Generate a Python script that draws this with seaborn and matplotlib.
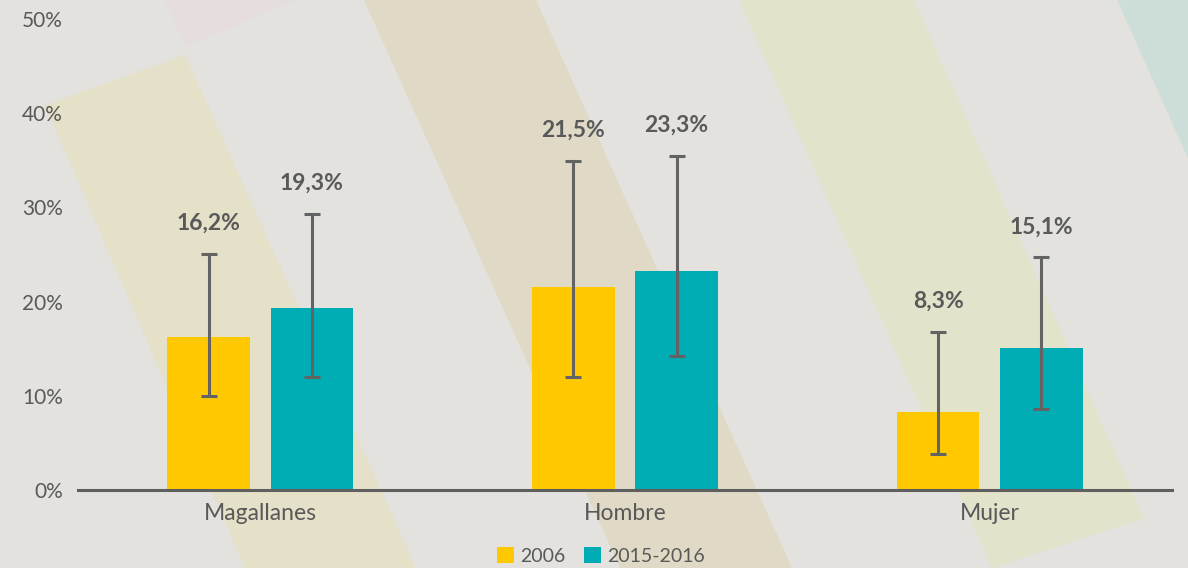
import matplotlib
matplotlib.use("Agg")
import matplotlib.pyplot as plt
from matplotlib.patches import Polygon, Patch
from matplotlib.container import BarContainer
import seaborn as sns
import pandas as pd
import numpy as np

# ---- data ----
categories = ["Magallanes", "Hombre", "Mujer"]
series = ["2006", "2015-2016"]
values_2006 = [16.2, 21.5, 8.3]
values_2015 = [19.3, 23.3, 15.1]
lo_2006 = [10.0, 12.0, 3.8]
hi_2006 = [25.1, 34.9, 16.8]
lo_2015 = [12.0, 14.2, 8.6]
hi_2015 = [29.3, 35.5, 24.7]
yticks = [0, 10, 20, 30, 40, 50]
ytick_labels = ["0%", "10%", "20%", "30%", "40%", "50%"]

colors = {"2006": "#FFC800", "2015-2016": "#00ADB5"}
BG = "#E3E2DE"
GREY = "#595959"
ERR = "#636363"

df = pd.DataFrame({
    "cat": categories * 2,
    "serie": [series[0]] * 3 + [series[1]] * 3,
    "val": values_2006 + values_2015,
})

sns.set_theme(style="white")
plt.rcParams["font.family"] = ["Lato", "DejaVu Sans"]

W, H = 1188, 568
fig = plt.figure(figsize=(W / 100, H / 100), dpi=100, facecolor=BG)

# decorative background stripes (pixel coords -> figure fraction)
def px(pts):
    return [(x / W, 1 - y / H) for x, y in pts]

stripes = [
    ([(165, 0), (295, 0), (186, 47)], "#E6DEDC"),
    ([(45, 105), (185, 55), (416, 568), (245, 568)], "#E5E0C8"),
    ([(364, 0), (536, 0), (792, 568), (620, 568)], "#DFD9C6"),
    ([(739, 0), (914, 0), (1144, 518), (992, 568)], "#E3E2CA"),
    ([(1117, 0), (1188, 0), (1188, 158)], "#CDDDD7"),
]
for pts, c in stripes:
    fig.patches.append(Polygon(px(pts), closed=True, facecolor=c, edgecolor="none",
                               transform=fig.transFigure, zorder=-5))

ax = fig.add_axes([78 / W, 1 - 490 / H, (1172 - 78) / W, (490 - 19) / H])
ax.set_facecolor("none")

sns.barplot(data=df, x="cat", y="val", hue="serie", order=categories,
            hue_order=series, palette=colors, width=0.566, gap=0.2,
            errorbar=None, saturation=1, ax=ax, legend=False, zorder=2,
            linewidth=0, edgecolor="none")

bar_conts = [c for c in ax.containers if isinstance(c, BarContainer)]
los = [lo_2006, lo_2015]
his = [hi_2006, hi_2015]
vals = [values_2006, values_2015]
for i, cont in enumerate(bar_conts):
    xs = [p.get_x() + p.get_width() / 2 for p in cont.patches]
    v = np.array(vals[i])
    lo = np.array(los[i])
    hi = np.array(his[i])
    ax.errorbar(xs, v, yerr=[v - lo, hi - v], fmt="none", ecolor=ERR,
                elinewidth=2.2, capsize=5.5, capthick=2.2, zorder=3)
    for x, h, val in zip(xs, hi, v):
        ax.annotate(f"{val:.1f}%".replace(".", ","), (x, h), xytext=(0, 22),
                    textcoords="offset points", ha="center", va="center",
                    fontsize=16.5, fontweight="bold", color=GREY)

ax.set_xlim(-0.5, 2.5)
ax.set_ylim(0, 50)
ax.set_yticks(yticks)
ax.set_yticklabels(ytick_labels)
ax.set_xlabel("")
ax.set_ylabel("")
for s in ["top", "right", "left"]:
    ax.spines[s].set_visible(False)
ax.spines["bottom"].set_color("#5f5f5f")
ax.spines["bottom"].set_linewidth(2.2)
ax.spines["bottom"].set_zorder(4)
ax.tick_params(axis="y", length=0, pad=11, labelsize=15, labelcolor=GREY)
ax.tick_params(axis="x", length=0, pad=9, labelsize=16.5, labelcolor=GREY)
ax.grid(False)

handles = [Patch(facecolor=colors[s], edgecolor="none") for s in series]
fig.legend(handles, series, loc="center", bbox_to_anchor=(601 / W, 1 - 556 / H),
           ncol=2, frameon=False, fontsize=14, handlelength=0.85, handleheight=0.85,
           handletextpad=0.3, columnspacing=1.0, labelcolor=GREY, borderpad=0)

fig.savefig("out.png", dpi=100, facecolor=BG)
